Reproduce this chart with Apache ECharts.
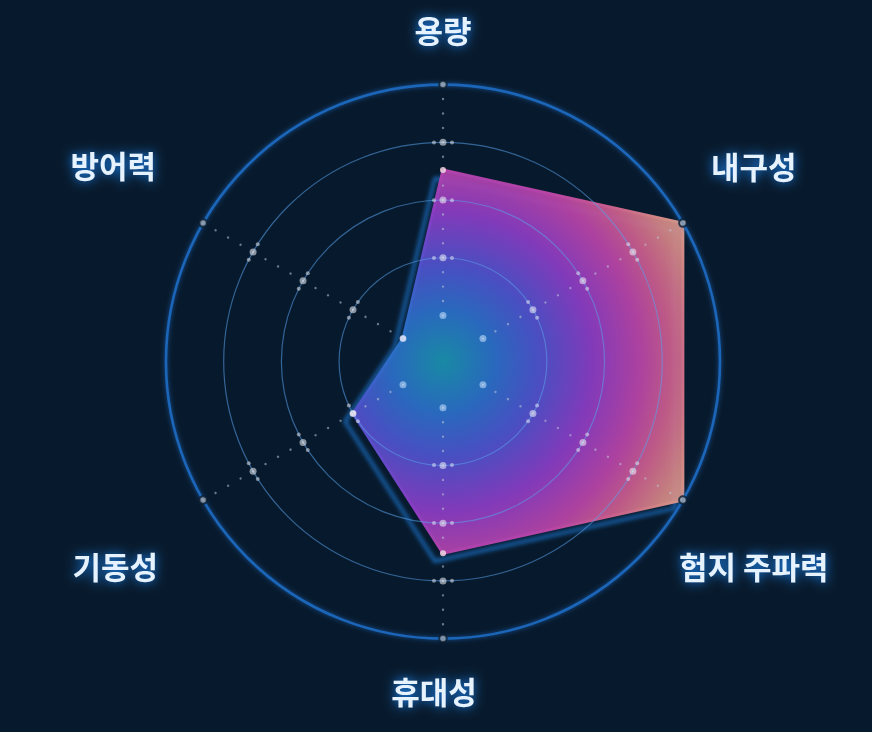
<!DOCTYPE html>
<html><head><meta charset="utf-8">
<style>html,body{margin:0;padding:0;background:#071a2d;}#c{width:872px;height:732px;}</style>
<script src="https://cdn.jsdelivr.net/npm/echarts@6/dist/echarts.min.js"></script>
</head><body><div id="c"></div>
<script>
// ---- data ----
const indicatorNames = ['용량', '방어력', '기동성', '휴대성', '험지 주파력', '내구성'];
const seriesValues = [63, 0, 25, 63, 100, 100];
const axisMin = 0;
const axisMax = 100;
const splitCount = 4;
const ringValues = [25, 50, 75];
const innerRingValue = 0;
const outerRingValue = 100;

// ---- layout / style ----
const W = 872, H = 732;
const CENTER = ['50.8%', '49.4%'];
const CX = W * 0.508, CY = H * 0.494;
const OUTER = 277;
const INNER = OUTER * 20 / 120;
const FLANK_PX = 9;
const BG = '#071a2d';

const chart = echarts.init(document.getElementById('c'), null, {renderer: 'canvas'});
const nAxes = indicatorNames.length;
const step = 360 / nAxes;
const polarMin = axisMin - (axisMax - axisMin) * INNER / (OUTER - INNER);
const pxOf = v => INNER + (v - axisMin) / (axisMax - axisMin) * (OUTER - INNER);

const axisAngles = indicatorNames.map((_, i) => i * step);
const dotsAt = v => axisAngles.map(a => [v, a]);
const ringDots = [].concat(...ringValues.map(dotsAt));
const flankDots = [].concat(...ringValues.map(v => {
  const d = FLANK_PX / pxOf(v) * 180 / Math.PI;
  return [].concat(...axisAngles.map(a => [[v, a - d], [v, a + d]]));
}));

const baseText = {
  color: '#e6f3ff', fontSize: 31, fontWeight: 'bold',
  fontFamily: '"Noto Sans CJK KR", "Noto Sans", sans-serif',
  textShadowColor: 'rgba(30,140,255,1)', textShadowBlur: 11
};
const nameLayout = [
  {},
  {width: 114, align: 'center', padding: [0, 0, 76, 0]},
  {width: 110, align: 'center', padding: [96, 0, 0, 0]},
  {padding: [0, 18, 0, 0]},
  {width: 76, align: 'center', padding: [96, 0, 0, 0]},
  {width: 76, align: 'center', padding: [0, 0, 74, 0]}
];
const rich = {};
nameLayout.forEach((l, i) => { rich['n' + i] = Object.assign({}, baseText, l); });

const fillGrad = new echarts.graphic.RadialGradient(CX, CY, 300, [
  {offset: 0, color: '#1a90ac'},
  {offset: 0.17, color: '#2b6ec6'},
  {offset: 0.32, color: '#4d52cb'},
  {offset: 0.5, color: '#8a3cc2'},
  {offset: 0.66, color: '#b844a6'},
  {offset: 0.76, color: '#c95e8c'},
  {offset: 0.86, color: '#d08584'},
  {offset: 1, color: '#d9ae94'}
], true);

const hidden = {axisLine: {show: false}, axisTick: {show: false}, axisLabel: {show: false}, splitLine: {show: false}};

chart.setOption({
  backgroundColor: BG,
  animation: false,
  radar: {
    center: CENTER,
    radius: [INNER, OUTER],
    startAngle: 90,
    splitNumber: splitCount,
    shape: 'circle',
    z: 3,
    nameGap: 38,
    indicator: indicatorNames.map(n => ({name: n, min: axisMin, max: axisMax})),
    axisName: Object.assign({
      formatter: (name) => '{n' + indicatorNames.indexOf(name) + '|' + name + '}',
      rich: rich
    }, baseText),
    splitLine: {lineStyle: {
      color: ['rgba(0,0,0,0)', 'rgba(90,160,235,0.55)', 'rgba(90,160,235,0.55)', 'rgba(90,160,235,0.55)', 'rgba(0,0,0,0)'],
      width: 1.2
    }},
    splitArea: {show: false},
    axisLine: {lineStyle: {
      color: 'rgba(190,200,215,0.55)', width: 2.4,
      type: [0.01, (OUTER - INNER) / splitCount / 4 - 0.01], cap: 'round'
    }}
  },
  polar: {center: CENTER, radius: OUTER},
  angleAxis: Object.assign({}, hidden, {
    type: 'value', min: 0, max: 360, startAngle: 90, clockwise: false, z: 3,
    axisLine: {show: true, lineStyle: {color: '#1b66b8', width: 2.6, shadowColor: 'rgba(30,110,210,0.7)', shadowBlur: 4}}
  }),
  radiusAxis: Object.assign({}, hidden, {type: 'value', min: polarMin, max: axisMax}),
  series: [
    {
      type: 'radar', z: 2,
      symbol: 'circle', symbolSize: 6,
      itemStyle: {color: 'rgba(255,225,235,0.8)'},
      lineStyle: {color: fillGrad, width: 3, shadowColor: '#1c74cc', shadowBlur: 4, shadowOffsetX: -8, shadowOffsetY: 8},
      areaStyle: {color: fillGrad, opacity: 0.94},
      data: [{name: '성능', value: seriesValues}]
    },
    {
      type: 'scatter', coordinateSystem: 'polar', z: 4, silent: true,
      symbolSize: 7, itemStyle: {color: 'rgba(235,238,245,0.72)'},
      data: ringDots
    },
    {
      type: 'scatter', coordinateSystem: 'polar', z: 4, silent: true,
      symbolSize: 4, itemStyle: {color: 'rgba(235,238,245,0.65)'},
      data: flankDots
    },
    {
      type: 'scatter', coordinateSystem: 'polar', z: 4, silent: true,
      symbolSize: 7.5, itemStyle: {color: '#9aa3ae', borderColor: BG, borderWidth: 2},
      data: dotsAt(outerRingValue)
    },
    {
      type: 'scatter', coordinateSystem: 'polar', z: 4, silent: true,
      symbolSize: 7, itemStyle: {color: 'rgba(200,225,255,0.7)'},
      data: dotsAt(innerRingValue)
    }
  ]
});
</script>
</body></html>
